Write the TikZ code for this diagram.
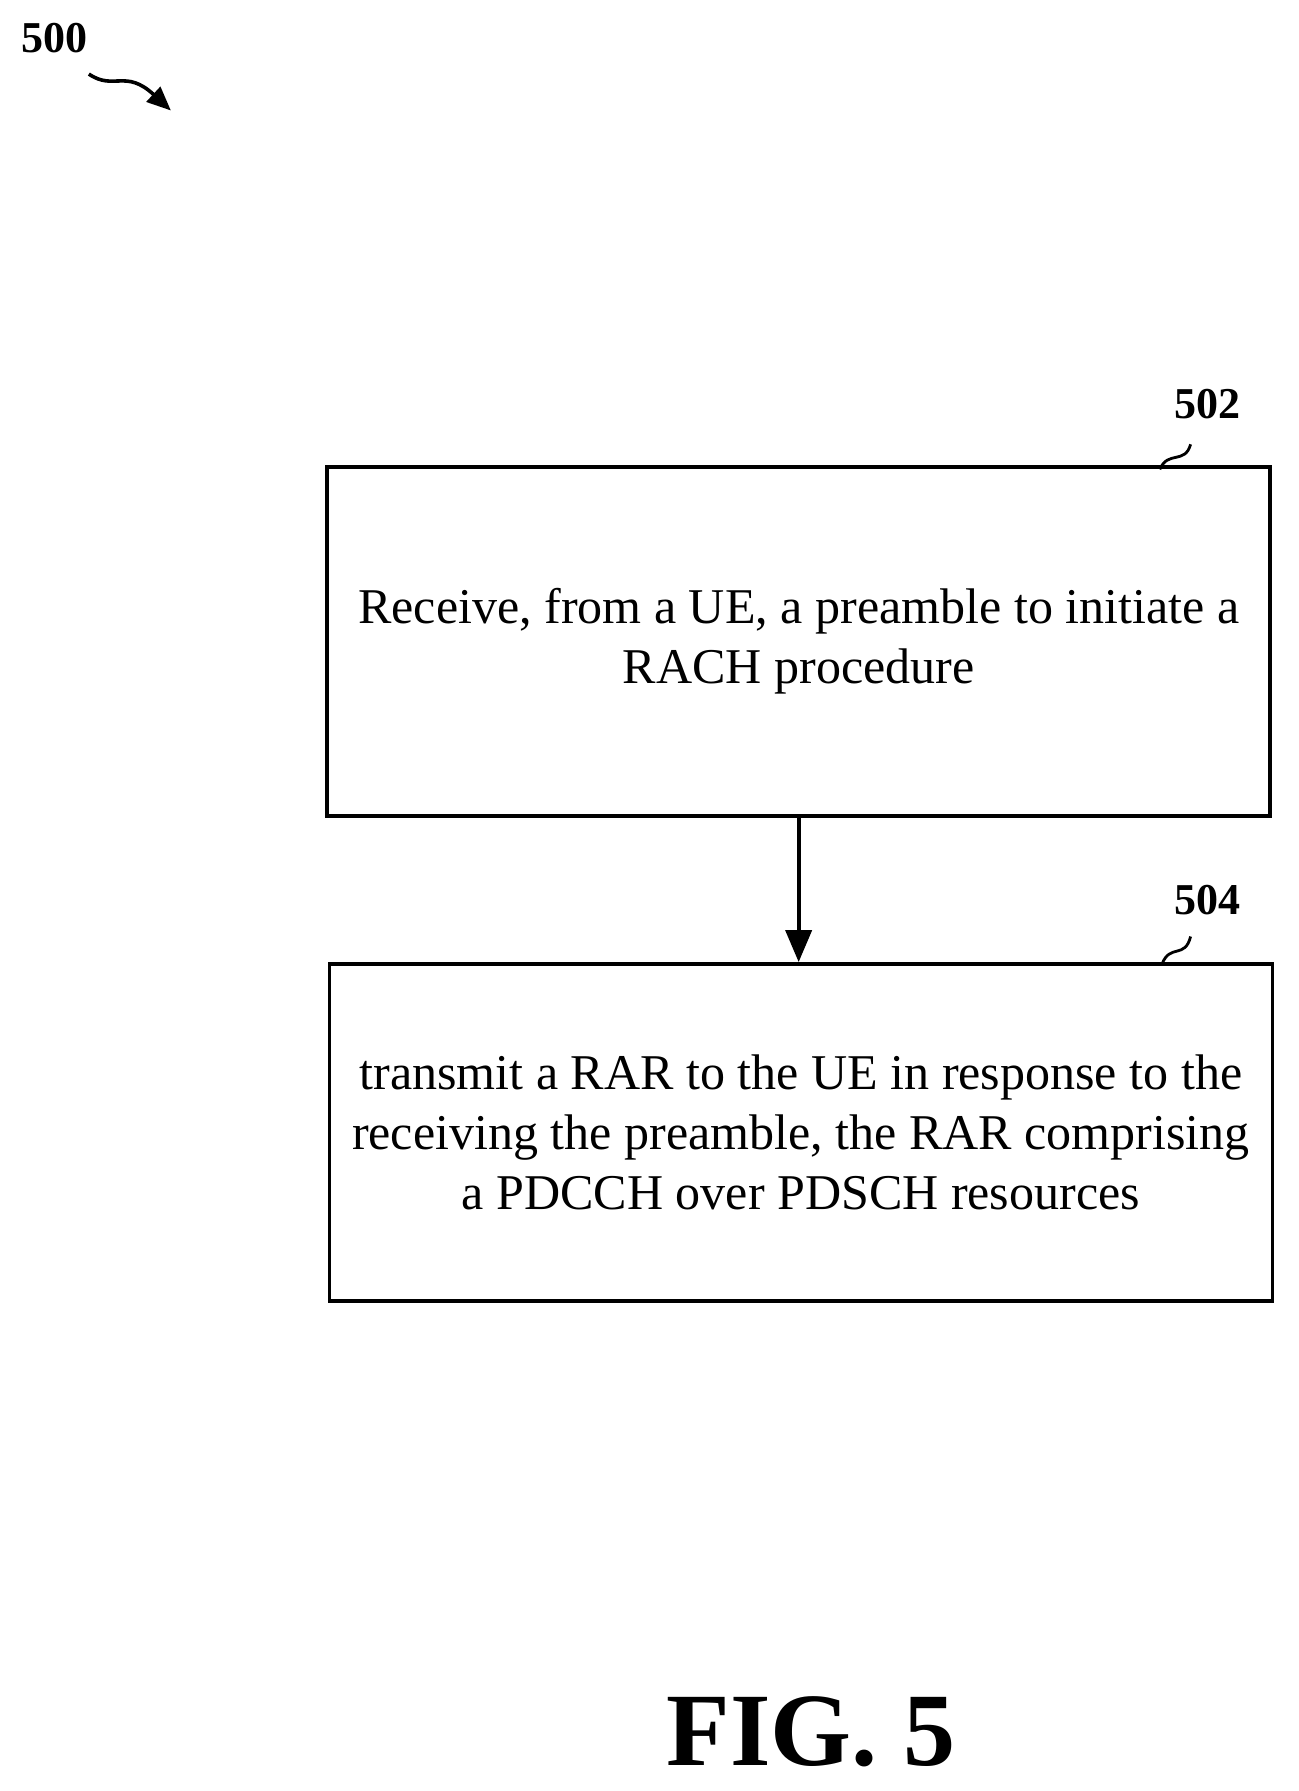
\documentclass[tikz,border=0pt]{standalone}
\usepackage{fontspec}
\setmainfont{Liberation Serif}
\usetikzlibrary{arrows.meta,calc}
\begin{document}
\begin{tikzpicture}[x=0.02cm,y=-0.02cm,
 box/.style={draw,line width=1.8pt,minimum width=16.56cm,inner sep=0pt,align=center,font=\fontsize{25}{30}\selectfont},
 lab/.style={font=\fontsize{22}{26}\selectfont\bfseries},
 conn/.style={line width=2pt,-{Triangle[length=16pt,width=13pt]}}]
\useasboundingbox (0,0) rectangle (1140,1572);
\node[box,minimum height=6.12cm] (b1) at (701,563) {Receive, from a UE, a preamble to initiate a\\RACH procedure};
\node[box,minimum height=5.92cm] (b2) at (703,994) {transmit a RAR to the UE in response to the\\receiving the preamble, the RAR comprising\\a PDCCH over PDSCH resources};
\draw[conn] (b1.south) -- (b1.south |- b2.north);
\node[lab] (l502) at (1060,355) {502};
\node[lab] (l504) at (1060,790) {504};
\node[lab] (l500) at (48,33) {500};
\coordinate (s1) at (1018,412);
\coordinate (s2) at (1020,846);
\draw[line width=1.4pt] (s1) .. controls (1025,395) and (1040,408) .. (1045,390);
\draw[line width=1.4pt] (s2) .. controls (1027,828) and (1040,842) .. (1045,822);
\coordinate (a0) at (78,65);
\coordinate (a1) at (150,97);
\draw[line width=1.8pt,-{Triangle[length=12pt,width=10pt]}] (a0) .. controls (100,80) and (110,60) .. (a1);
\node[font=\fontsize{52}{60}\selectfont\bfseries] (fig) at (712,1520) {FIG. 5};
\end{tikzpicture}
\end{document}
